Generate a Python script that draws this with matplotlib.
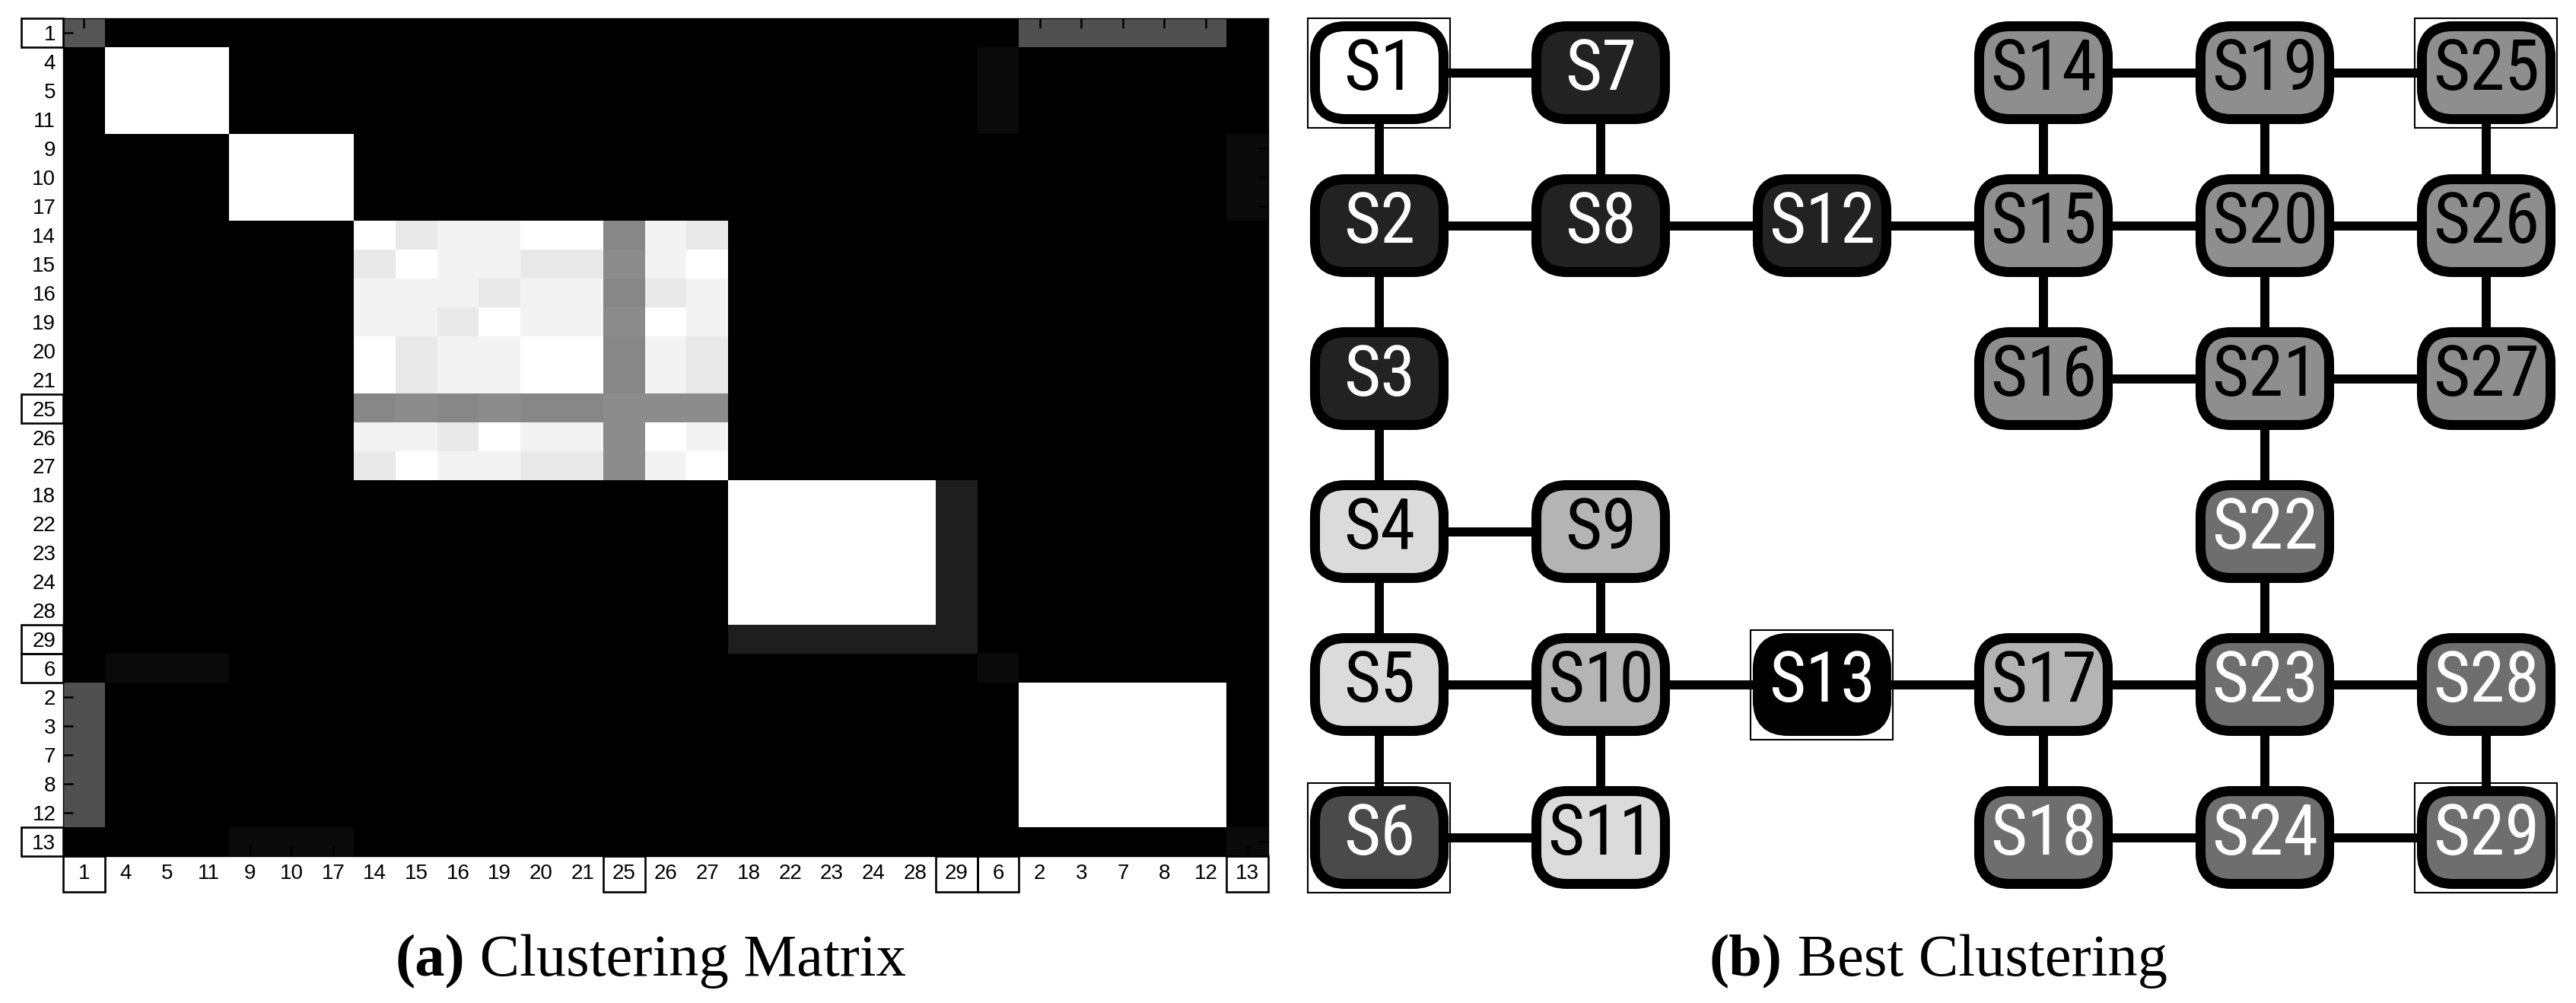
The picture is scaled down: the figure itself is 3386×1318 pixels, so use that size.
import numpy as np
import matplotlib
matplotlib.use('Agg')
import matplotlib.pyplot as plt
from matplotlib.patches import Rectangle, FancyBboxPatch
from matplotlib import font_manager

W, H = 3387, 1318
DPI = 100

# ---- (a) clustering matrix --------------------------------------------
order = [1, 4, 5, 11, 9, 10, 17, 14, 15, 16, 19, 20, 21, 25, 26, 27,
         18, 22, 23, 24, 28, 29, 6, 2, 3, 7, 8, 12, 13]
boxed_labels = [1, 25, 29, 6, 13]

# groups whose members always fall together (value 1)
white_blocks = [[4, 5, 11], [9, 10, 17], [18, 22, 23, 24, 28],
                [2, 3, 7, 8, 12]]

# loose members: (site, related group, value with group, self value)
loose_sites = [
    (1, [2, 3, 7, 8, 12], 0.314, 0.333),
    (29, [18, 22, 23, 24, 28], 0.118, 0.118),
    (6, [4, 5, 11], 0.04, 0.04),
    (13, [9, 10, 17], 0.04, 0.04),
]

# the large group, values read cell by cell
big_group = [14, 15, 16, 19, 20, 21, 25, 26, 27]
big_values = [
    [1.000, 0.914, 0.957, 0.957, 1.000, 1.000, 0.530, 0.957, 0.914],
    [0.914, 1.000, 0.957, 0.957, 0.914, 0.914, 0.550, 0.957, 1.000],
    [0.957, 0.957, 0.957, 0.914, 0.957, 0.957, 0.530, 0.914, 0.957],
    [0.957, 0.957, 0.914, 1.000, 0.957, 0.957, 0.550, 1.000, 0.957],
    [1.000, 0.914, 0.957, 0.957, 1.000, 1.000, 0.530, 0.957, 0.914],
    [1.000, 0.914, 0.957, 0.957, 1.000, 1.000, 0.530, 0.957, 0.914],
    [0.530, 0.550, 0.530, 0.550, 0.530, 0.530, 0.550, 0.550, 0.550],
    [0.957, 0.957, 0.914, 1.000, 0.957, 0.957, 0.550, 1.000, 0.957],
    [0.914, 1.000, 0.957, 0.957, 0.914, 0.914, 0.550, 0.957, 1.000],
]

# ---- (b) best clustering graph -----------------------------------------
node_names = ['S%d' % i for i in range(1, 30)]
node_col = [0, 0, 0, 0, 0, 0, 1, 1, 1, 1, 1, 2, 2, 3, 3, 3, 3, 3,
            4, 4, 4, 4, 4, 4, 5, 5, 5, 5, 5]
node_row = [0, 1, 2, 3, 4, 5, 0, 1, 3, 4, 5, 1, 4, 0, 1, 2, 4, 5,
            0, 1, 2, 3, 4, 5, 0, 1, 2, 4, 5]
node_shade = [0xff, 0x22, 0x22, 0xdb, 0xdb, 0x4a, 0x22, 0x22, 0xb4, 0xb4,
              0xdb, 0x22, 0x00, 0x8e, 0x8e, 0x8e, 0xb4, 0x6e, 0x8e, 0x8e,
              0x8e, 0x6e, 0x6e, 0x6e, 0x8e, 0x8e, 0x8e, 0x6e, 0x6e]
boxed_nodes = [1, 6, 13, 25, 29]
edges = [(1, 7), (1, 2), (7, 8), (2, 8), (8, 12), (12, 15), (2, 3), (3, 4),
         (4, 9), (4, 5), (9, 10), (5, 10), (5, 6), (6, 11), (10, 11),
         (10, 13), (13, 17), (17, 23), (17, 18), (18, 24), (23, 24),
         (23, 28), (28, 29), (24, 29), (22, 23), (21, 22), (14, 15),
         (14, 19), (19, 25), (19, 20), (15, 20), (15, 16), (16, 21),
         (20, 21), (20, 26), (25, 26), (26, 27), (21, 27)]


def build_matrix():
    n = len(order)
    pos = {s: i for i, s in enumerate(order)}
    M = np.zeros((n, n))
    for blk in white_blocks:
        for a in blk:
            for b in blk:
                M[pos[a], pos[b]] = 1.0
    for site, grp, val, self_val in loose_sites:
        for g in grp:
            M[pos[site], pos[g]] = val
            M[pos[g], pos[site]] = val
        M[pos[site], pos[site]] = self_val
    for i, a in enumerate(big_group):
        for j, b in enumerate(big_group):
            M[pos[a], pos[b]] = big_values[i][j]
    return M


def px(x0, y0, x1, y1):
    """figure rect from pixel box (top-left origin)"""
    return [x0 / W, (H - y1) / H, (x1 - x0) / W, (y1 - y0) / H]


# narrow sans for the node labels if one is installed
installed = {f.name for f in font_manager.fontManager.ttflist}
node_family = [f for f in ['DejaVu Sans Condensed', 'Liberation Sans Narrow',
                           'Roboto Condensed'] if f in installed]
node_size = 67
if not node_family:
    node_family = ['DejaVu Sans']
    node_size = 56

fig = plt.figure(figsize=(W / DPI, H / DPI), dpi=DPI, facecolor='white')

# matrix panel
ax1 = fig.add_axes(px(83, 24, 1667, 1125))
M = build_matrix()
n = len(order)
ax1.imshow(M, cmap='gray', vmin=0, vmax=1, aspect='auto',
           interpolation='nearest')
ax1.set_xticks(range(n))
ax1.set_yticks(range(n))
ax1.set_xticklabels([str(s) for s in order], family='Liberation Sans',
                    fontsize=20)
ax1.set_yticklabels([str(s) for s in order], family='Liberation Sans',
                    fontsize=20)
ax1.tick_params(direction='in', length=9.5, width=1.8, top=True,
                right=True, pad=7, colors='black')
for sp in ax1.spines.values():
    sp.set_linewidth(1.0)

cell_w = 1584 / n
cell_h = 1101 / n
for s in boxed_labels:
    k = order.index(s)
    ax1.add_patch(Rectangle((-0.5 - 55 / cell_w, k - 0.5), 55 / cell_w, 1.0,
                            fill=False, lw=1.9, ec='black', clip_on=False))
    ax1.add_patch(Rectangle((k - 0.5, n - 0.5), 1.0, 47 / cell_h,
                            fill=False, lw=1.9, ec='black', clip_on=False))

# graph panel, data units are pixels
ax2 = fig.add_axes(px(1700, 0, W, H))
ax2.set_xlim(1700, W)
ax2.set_ylim(H, 0)
ax2.axis('off')

X0, Y0, DX, DY = 1813, 95.5, 291, 201
node_x = [X0 + c * DX for c in node_col]
node_y = [Y0 + r * DY for r in node_row]
NW, NH = 169, 122

for a, b in edges:
    ax2.plot([node_x[a - 1], node_x[b - 1]], [node_y[a - 1], node_y[b - 1]],
             color='black', lw=8.6, solid_capstyle='butt', zorder=1)

for i, name in enumerate(node_names):
    g = node_shade[i] / 255
    ax2.add_patch(FancyBboxPatch((node_x[i] - NW / 2, node_y[i] - NH / 2),
                                 NW, NH,
                                 boxstyle='round,pad=0,rounding_size=40',
                                 fc=(g, g, g), ec='black', lw=9.4, zorder=2))
    ax2.text(node_x[i], node_y[i] - 3, name, ha='center', va='center',
             family=node_family, fontsize=node_size,
             color='white' if node_shade[i] < 0x80 else 'black', zorder=3)
    if i + 1 in boxed_nodes:
        ax2.add_patch(Rectangle((node_x[i] - 93.5, node_y[i] - 72), 187, 144,
                                fill=False, ec='black', lw=1.5, zorder=4))

# captions
captions = [('(a)', 'Clustering Matrix', 855), ('(b)', 'Best Clustering', 2548)]
cap_y = 1 - 1282 / H
fig.canvas.draw()
r = fig.canvas.get_renderer()
for tag, rest, cx in captions:
    t1 = fig.text(0, cap_y, tag, family='Liberation Serif', weight='bold',
                  fontsize=56.5, ha='left', va='baseline')
    t2 = fig.text(0, cap_y, ' ' + rest, family='Liberation Serif',
                  fontsize=56.5, ha='left', va='baseline')
    w1 = t1.get_window_extent(r).width
    w2 = t2.get_window_extent(r).width
    left = cx - (w1 + w2) / 2
    t1.set_x(left / W)
    t2.set_x((left + w1) / W)

fig.savefig('out.png', dpi=DPI, facecolor='white')
